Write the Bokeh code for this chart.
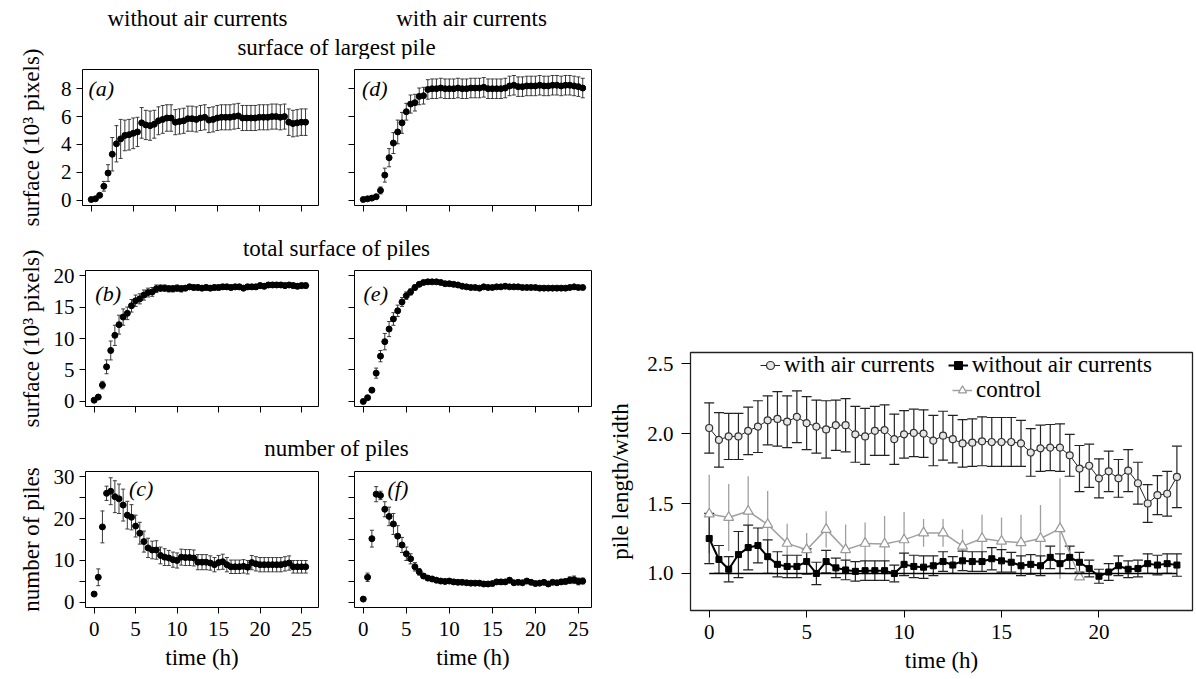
from bokeh.plotting import figure
from bokeh.models import (Range1d, FixedTicker, Label, Whisker, TeeHead, ColumnDataSource,
                          Legend, LegendItem, PrintfTickFormatter)
from bokeh.layouts import row, column
from bokeh.embed import file_html
from bokeh.resources import INLINE

FONT = "Liberation Serif"
TXT = "23px"

# ---------------- data ----------------
time_small = [0.0, 0.5, 1.0, 1.5, 2.0, 2.5, 3.0, 3.5, 4.0, 4.5, 5.0, 5.5, 6.0, 6.5, 7.0, 7.5,
              8.0, 8.5, 9.0, 9.5, 10.0, 10.5, 11.0, 11.5, 12.0, 12.5, 13.0, 13.5, 14.0, 14.5,
              15.0, 15.5, 16.0, 16.5, 17.0, 17.5, 18.0, 18.5, 19.0, 19.5, 20.0, 20.5, 21.0,
              21.5, 22.0, 22.5, 23.0, 23.5, 24.0, 24.5, 25.0, 25.5]

largest_without = [0.05, 0.10, 0.35, 1.00, 1.95, 3.30, 4.05, 4.40, 4.65, 4.70,
                   4.80, 4.90, 5.55, 5.40, 5.35, 5.45, 5.70, 5.80, 5.90, 5.90,
                   5.60, 5.65, 5.70, 5.85, 5.85, 5.80, 5.90, 5.95, 5.75, 5.80,
                   5.90, 5.95, 5.95, 5.95, 6.00, 6.05, 5.90, 5.90, 5.90, 5.90,
                   5.95, 5.95, 5.95, 6.00, 6.00, 5.95, 6.00, 5.60, 5.50, 5.55,
                   5.60, 5.60]
largest_without_err = [0.05, 0.05, 0.10, 0.35, 0.60, 1.20, 1.30, 1.40, 1.10, 1.10,
                       1.10, 1.05, 1.10, 1.05, 1.05, 1.00, 1.00, 1.00, 0.95, 0.95,
                       0.90, 0.90, 0.90, 0.90, 0.90, 0.90, 0.90, 0.90, 0.90, 0.90,
                       0.90, 0.90, 0.90, 0.90, 0.90, 0.90, 0.90, 0.90, 0.90, 0.90,
                       0.90, 0.90, 0.90, 0.90, 0.90, 0.90, 0.90, 0.95, 0.95, 0.95,
                       0.95, 0.95]

largest_with = [0.05, 0.10, 0.15, 0.25, 0.70, 1.80, 3.05, 4.10, 4.90, 5.55,
                6.35, 6.90, 7.00, 7.45, 7.50, 7.95, 8.00, 8.00, 8.05, 8.00,
                8.00, 8.00, 8.05, 8.00, 8.00, 8.05, 8.05, 8.05, 8.10, 8.00,
                8.00, 8.00, 8.00, 8.05, 8.20, 8.25, 8.15, 8.15, 8.20, 8.20,
                8.20, 8.25, 8.20, 8.20, 8.25, 8.25, 8.20, 8.25, 8.25, 8.20,
                8.15, 8.05]
largest_with_err = [0.05, 0.05, 0.05, 0.10, 0.25, 0.50, 0.65, 0.75, 0.85, 0.75,
                    0.60, 0.65, 0.60, 0.60, 0.60, 0.70, 0.70, 0.70, 0.70, 0.70,
                    0.70, 0.70, 0.70, 0.70, 0.70, 0.70, 0.70, 0.70, 0.70, 0.70,
                    0.70, 0.70, 0.70, 0.70, 0.70, 0.70, 0.70, 0.70, 0.70, 0.70,
                    0.70, 0.70, 0.70, 0.70, 0.70, 0.70, 0.70, 0.70, 0.70, 0.70,
                    0.70, 0.70]

total_without = [0.2, 0.7, 2.6, 5.5, 8.1, 10.5, 12.2, 13.4, 14.0, 15.2,
                 16.0, 16.3, 16.9, 17.3, 17.4, 17.9, 18.0, 18.0, 17.9, 17.9,
                 18.0, 17.9, 18.0, 18.2, 18.1, 18.1, 18.0, 18.1, 18.0, 18.1,
                 18.1, 18.2, 18.2, 18.1, 18.2, 18.2, 18.0, 18.2, 18.2, 18.2,
                 18.4, 18.3, 18.5, 18.5, 18.5, 18.5, 18.4, 18.5, 18.4, 18.3,
                 18.4, 18.4]
total_without_err = [0.2, 0.3, 0.6, 1.1, 1.5, 1.6, 1.5, 1.3, 1.0, 1.0,
                     0.9, 0.8, 0.8, 0.7, 0.7, 0.6, 0.5, 0.5, 0.5, 0.5,
                     0.5, 0.5, 0.4, 0.4, 0.4, 0.4, 0.4, 0.4, 0.4, 0.4,
                     0.4, 0.4, 0.4, 0.4, 0.4, 0.4, 0.4, 0.4, 0.4, 0.4,
                     0.4, 0.4, 0.4, 0.4, 0.4, 0.4, 0.4, 0.4, 0.4, 0.4,
                     0.4, 0.4]

total_with = [0.0, 0.6, 1.8, 4.5, 7.2, 9.5, 11.5, 13.1, 14.4, 15.8,
              16.8, 17.4, 18.1, 18.6, 18.9, 19.0, 19.0, 19.0, 18.9, 18.7,
              18.7, 18.6, 18.5, 18.3, 18.2, 18.1, 18.1, 18.0, 18.2, 18.1,
              18.1, 18.2, 18.2, 18.3, 18.2, 18.2, 18.2, 18.1, 18.1, 18.1,
              18.1, 18.0, 18.0, 18.0, 18.0, 18.0, 18.0, 18.0, 18.1, 18.2,
              18.1, 18.1]
total_with_err = [0.1, 0.2, 0.3, 0.8, 0.9, 1.3, 1.2, 1.0, 0.9, 0.7,
                  0.6, 0.5, 0.4, 0.3, 0.3, 0.3, 0.3, 0.3, 0.3, 0.3,
                  0.3, 0.3, 0.3, 0.3, 0.3, 0.3, 0.3, 0.3, 0.3, 0.3,
                  0.3, 0.3, 0.3, 0.3, 0.3, 0.3, 0.3, 0.3, 0.3, 0.3,
                  0.3, 0.3, 0.3, 0.3, 0.3, 0.3, 0.3, 0.3, 0.3, 0.3,
                  0.3, 0.3]

number_without = [2.0, 6.0, 18.0, 26.0, 26.5, 25.2, 24.7, 23.2, 20.8, 20.3,
                  18.2, 16.5, 14.5, 13.0, 12.5, 12.5, 11.2, 10.8, 10.6, 10.2,
                  10.0, 10.8, 10.7, 10.7, 10.6, 9.6, 9.6, 9.6, 9.4, 9.0,
                  9.5, 9.7, 9.0, 8.5, 8.5, 8.5, 8.6, 8.4, 9.5, 9.2,
                  9.0, 9.0, 9.0, 9.0, 9.0, 9.0, 9.2, 9.4, 8.5, 8.5,
                  8.5, 8.5]
number_without_err = [0.0, 2.0, 3.8, 1.7, 3.2, 3.8, 3.5, 3.8, 3.3, 3.0,
                      2.6, 2.6, 2.5, 2.3, 2.1, 2.2, 2.0, 2.0, 1.8, 1.8,
                      1.8, 1.9, 1.9, 1.9, 1.9, 1.8, 1.8, 1.8, 1.7, 1.7,
                      1.7, 1.8, 1.7, 1.6, 1.6, 1.6, 1.6, 1.6, 1.7, 1.7,
                      1.7, 1.7, 1.7, 1.7, 1.7, 1.7, 1.7, 1.7, 1.5, 1.5,
                      1.5, 1.5]

number_with = [0.8, 6.0, 15.2, 25.8, 25.5, 22.2, 20.5, 18.7, 15.8, 13.7,
               11.6, 10.4, 8.5, 7.3, 6.3, 5.8, 5.6, 5.3, 5.1, 5.0,
               5.1, 4.9, 4.8, 4.8, 4.7, 4.6, 4.6, 4.6, 4.4, 4.4,
               4.5, 4.9, 4.9, 4.9, 5.3, 4.7, 4.8, 4.7, 5.1, 4.8,
               4.5, 4.6, 4.8, 4.4, 4.8, 4.7, 4.9, 5.0, 5.3, 5.4,
               5.0, 5.1]
number_with_err = [0.0, 1.0, 2.0, 1.8, 1.0, 1.8, 2.2, 2.5, 2.5, 1.8,
                   1.6, 1.2, 1.0, 0.8, 0.6, 0.5, 0.5, 0.5, 0.5, 0.5,
                   0.5, 0.5, 0.5, 0.5, 0.5, 0.5, 0.5, 0.5, 0.5, 0.5,
                   0.5, 0.5, 0.5, 0.5, 0.6, 0.5, 0.5, 0.5, 0.5, 0.5,
                   0.5, 0.5, 0.5, 0.5, 0.5, 0.5, 0.6, 0.6, 0.8, 0.9,
                   0.8, 0.7]

time_ratio = [0.0, 0.5, 1.0, 1.5, 2.0, 2.5, 3.0, 3.5, 4.0, 4.5, 5.0, 5.5, 6.0, 6.5, 7.0, 7.5,
              8.0, 8.5, 9.0, 9.5, 10.0, 10.5, 11.0, 11.5, 12.0, 12.5, 13.0, 13.5, 14.0, 14.5,
              15.0, 15.5, 16.0, 16.5, 17.0, 17.5, 18.0, 18.5, 19.0, 19.5, 20.0, 20.5, 21.0,
              21.5, 22.0, 22.5, 23.0, 23.5, 24.0]
ratio_with = [2.04, 1.955, 1.98, 1.98, 2.02, 2.05, 2.095, 2.105, 2.085, 2.12,
              2.075, 2.05, 2.03, 2.06, 2.06, 1.995, 1.98, 2.02, 2.025, 1.96,
              1.995, 2.005, 2.0, 1.95, 1.985, 1.96, 1.93, 1.935, 1.945, 1.94,
              1.94, 1.94, 1.93, 1.865, 1.895, 1.90, 1.90, 1.845, 1.75, 1.77,
              1.68, 1.73, 1.68, 1.735, 1.645, 1.50, 1.56, 1.57, 1.69]
ratio_with_err = [0.18, 0.195, 0.165, 0.165, 0.17, 0.185, 0.175, 0.195, 0.185, 0.185,
                  0.19, 0.19, 0.205, 0.18, 0.19, 0.2, 0.2, 0.175, 0.18, 0.18,
                  0.17, 0.17, 0.17, 0.18, 0.175, 0.17, 0.17, 0.17, 0.175, 0.175,
                  0.175, 0.175, 0.165, 0.17, 0.165, 0.165, 0.17, 0.15, 0.165, 0.155,
                  0.14, 0.145, 0.135, 0.15, 0.15, 0.135, 0.14, 0.16, 0.22]
ratio_without = [1.25, 1.10, 1.03, 1.135, 1.185, 1.20, 1.12, 1.065, 1.05, 1.05,
                 1.085, 1.0, 1.085, 1.04, 1.025, 1.015, 1.02, 1.02, 1.02, 1.0,
                 1.065, 1.05, 1.045, 1.055, 1.085, 1.06, 1.09, 1.085, 1.085, 1.105,
                 1.09, 1.08, 1.055, 1.065, 1.055, 1.115, 1.07, 1.115, 1.08, 1.035,
                 0.98, 1.01, 1.055, 1.03, 1.035, 1.07, 1.06, 1.07, 1.06]
ratio_without_err = [0.18, 0.10, 0.09, 0.165, 0.16, 0.125, 0.12, 0.09, 0.08, 0.08,
                     0.09, 0.08, 0.08, 0.07, 0.07, 0.07, 0.07, 0.07, 0.07, 0.06,
                     0.08, 0.08, 0.08, 0.07, 0.07, 0.06, 0.07, 0.07, 0.07, 0.08,
                     0.08, 0.07, 0.07, 0.07, 0.07, 0.08, 0.07, 0.08, 0.07, 0.06,
                     0.05, 0.06, 0.07, 0.06, 0.06, 0.07, 0.07, 0.07, 0.08]
control_time = [0, 1, 2, 3, 4, 5, 6, 7, 8, 9, 10, 11, 12, 13, 14, 15, 16, 17, 18, 19]
ratio_control = [1.425, 1.40, 1.445, 1.35, 1.215, 1.17, 1.315, 1.17, 1.215, 1.21,
                 1.24, 1.29, 1.29, 1.195, 1.25, 1.23, 1.22, 1.25, 1.32, 0.975]
ratio_control_err = [0.28, 0.24, 0.25, 0.24, 0.14, 0.12, 0.13, 0.18, 0.15, 0.2,
                     0.2, 0.1, 0.1, 0.12, 0.17, 0.17, 0.2, 0.24, 0.36, 0.0]
baseline_time = [0, 24]
baseline_ratio = [1.0, 1.0]

time_ticks = [0, 5, 10, 15, 20, 25]

# ---------------- helpers ----------------
def style_axis(ax, ticks, show_labels, overrides=None):
    ax.ticker = FixedTicker(ticks=ticks)
    ax.axis_line_color = None
    ax.major_tick_in = 0
    ax.major_tick_out = 6
    ax.major_tick_line_color = "black"
    ax.minor_tick_line_color = None
    ax.major_label_text_font = FONT
    ax.major_label_text_color = "black"
    ax.axis_label_text_font = FONT
    ax.axis_label_text_font_style = "normal"
    ax.axis_label_text_font_size = TXT
    ax.axis_label_text_color = "black"
    if show_labels:
        ax.major_label_text_font_size = "21px"
        if overrides:
            ax.major_label_overrides = overrides
    else:
        ax.major_label_text_font_size = "1px"
        ax.major_label_standoff = 0
        ax.major_label_overrides = {t: "" for t in ticks}


def small_panel(width, height, mbl, mbr, mbt, mbb, xr, yr, yticks, ylab, xlab, yover=None):
    p = figure(width=width, height=height, x_range=Range1d(*xr), y_range=Range1d(*yr),
               output_backend="svg", toolbar_location=None,
               min_border_left=mbl, min_border_right=mbr,
               min_border_top=mbt, min_border_bottom=mbb)
    p.xgrid.visible = False
    p.ygrid.visible = False
    p.outline_line_color = "black"
    p.outline_line_width = 1
    p.outline_line_alpha = 1
    style_axis(p.xaxis[0], time_ticks, xlab)
    style_axis(p.yaxis[0], yticks, ylab, yover)
    p.yaxis[0].major_label_standoff = 5
    if xlab:
        p.xaxis[0].major_label_standoff = 8
        p.xaxis[0].axis_label = "time (h)"
        p.xaxis[0].axis_label_standoff = 6
    return p


def add_series(p, t, v, e, letter, lx, ly):
    src = ColumnDataSource(dict(t=t, v=v,
                                lo=[a - b for a, b in zip(v, e)],
                                hi=[a + b for a, b in zip(v, e)]))
    w = Whisker(source=src, base="t", lower="lo", upper="hi", dimension="height",
                line_color="#3a3a3a", line_width=1,
                upper_head=TeeHead(size=4, line_color="#3a3a3a", line_width=1),
                lower_head=TeeHead(size=4, line_color="#3a3a3a", line_width=1))
    w.level = "underlay"
    p.add_layout(w)
    p.scatter("t", "v", source=src, size=6, color="black", marker="circle")
    p.add_layout(Label(x=lx, y=ly, text=letter, text_font=FONT, text_font_style="italic",
                       text_font_size="22px", text_align="left", text_baseline="middle",
                       text_color="black"))


def text_fig(width, height, x0, x1, y0, y1, labels):
    p = figure(width=width, height=height, x_range=Range1d(x0, x1), y_range=Range1d(y1, y0),
               output_backend="svg", toolbar_location=None,
               x_axis_location=None, y_axis_location=None,
               min_border_left=0, min_border_right=0, min_border_top=0, min_border_bottom=0)
    p.xgrid.visible = False
    p.ygrid.visible = False
    p.outline_line_color = None
    for (x, y, txt) in labels:
        p.add_layout(Label(x=x, y=y, text=txt, text_font=FONT,
                           text_font_size=TXT, text_align="center",
                           text_baseline="middle", text_color="black"))
    return p


def label_strip(height, mbt, mbb, text):
    p = figure(width=50, height=height, x_range=Range1d(0, 1), y_range=Range1d(0, 1),
               output_backend="svg", toolbar_location=None, x_axis_location=None,
               min_border_left=43, min_border_right=0, min_border_top=mbt, min_border_bottom=mbb)
    p.xgrid.visible = False
    p.ygrid.visible = False
    p.outline_line_color = None
    ax = p.yaxis[0]
    ax.ticker = FixedTicker(ticks=[])
    ax.major_tick_out = 0
    ax.major_tick_in = 0
    ax.minor_tick_line_color = None
    ax.axis_line_color = None
    ax.major_label_standoff = 0
    ax.major_label_text_font_size = "1px"
    ax.axis_label = text
    ax.axis_label_standoff = 0
    ax.axis_label_text_font = FONT
    ax.axis_label_text_font_style = "normal"
    ax.axis_label_text_font_size = TXT
    ax.axis_label_text_color = "black"
    return p


XR_L = (-1.04, 27.04)
XR_R = (-1.02, 26.52)

# ---------------- small panels ----------------
fa = small_panel(286, 171, 32, 18, 10, 25, XR_L, (-0.38, 9.38), [0, 2, 4, 6, 8], True, False)
add_series(fa, time_small, largest_without, largest_without_err, "(a)", -0.33, 8.0)
fd = small_panel(269, 171, 18, 14, 10, 25, XR_R, (-0.38, 9.38), [0, 2, 4, 6, 8], False, False)
add_series(fd, time_small, largest_with, largest_with_err, "(d)", -0.15, 8.0)

fb = small_panel(286, 171, 32, 18, 10, 25, XR_L, (-0.8, 20.8), [0, 5, 10, 15, 20], True, False)
add_series(fb, time_small, total_without, total_without_err, "(b)", 0.15, 17.1)
fe = small_panel(269, 171, 18, 14, 10, 25, XR_R, (-0.8, 20.8), [0, 5, 10, 15, 20], False, False)
add_series(fe, time_small, total_with, total_with_err, "(e)", 0.03, 17.1)

fc = small_panel(286, 218, 32, 18, 10, 72, XR_L, (-1.2, 31.2), [0, 5, 10, 15, 20, 25, 30], True, True,
                 {5: "", 15: "", 25: ""})
add_series(fc, time_small, number_without, number_without_err, "(c)", 4.2, 27.1)
ff = small_panel(269, 218, 18, 14, 10, 72, XR_R, (-1.2, 31.2), [0, 5, 10, 15, 20, 25, 30], False, True)
add_series(ff, time_small, number_with, number_with_err, "(f)", 2.82, 27.1)

# ---------------- headers and side labels ----------------
h1 = text_fig(555, 59, 50, 605, 0, 59, [(197, 18, "without air currents"),
                                        (471, 18, "with air currents"),
                                        (336, 47, "surface of largest pile")])
h2 = text_fig(555, 30, 50, 605, 230, 260, [(336, 248, "total surface of piles")])
h3 = text_fig(555, 30, 50, 605, 431, 461, [(336, 448, "number of piles")])

s1 = label_strip(230, 69, 25, "surface (10³ pixels)")
s2 = label_strip(201, 40, 25, "surface (10³ pixels)")
s3 = label_strip(248, 40, 72, "number of piles")
strip = column(s1, s2, s3)

# ---------------- right panel ----------------
pr = figure(width=591, height=679, x_range=Range1d(-0.96, 24.8), y_range=Range1d(0.735, 2.58),
            output_backend="svg", toolbar_location=None,
            min_border_left=82, min_border_right=4, min_border_top=352, min_border_bottom=69)
pr.xgrid.visible = False
pr.ygrid.visible = False
pr.outline_line_color = "#222222"
pr.outline_line_width = 1.3
style_axis(pr.xaxis[0], [0, 5, 10, 15, 20], True)
style_axis(pr.yaxis[0], [1.0, 1.5, 2.0, 2.5], True)
pr.yaxis[0].formatter = PrintfTickFormatter(format="%.1f")
pr.yaxis[0].major_tick_out = 9
pr.yaxis[0].major_label_standoff = 8
pr.yaxis[0].axis_label = "pile length/width"
pr.yaxis[0].axis_label_standoff = 11
pr.xaxis[0].major_tick_out = 7
pr.xaxis[0].major_label_standoff = 7
pr.xaxis[0].axis_label = "time (h)"
pr.xaxis[0].axis_label_standoff = 6

src_c = ColumnDataSource(dict(t=control_time, v=ratio_control,
                              lo=[a - b for a, b in zip(ratio_control, ratio_control_err)],
                              hi=[a + b for a, b in zip(ratio_control, ratio_control_err)]))
wc = Whisker(source=src_c, base="t", lower="lo", upper="hi", dimension="height",
             line_color="#a0a0a0", line_width=1.3, upper_head=None, lower_head=None)
wc.level = "underlay"
pr.add_layout(wc)
r_c_line = pr.line("t", "v", source=src_c, line_color="#a0a0a0", line_width=1.5)
r_c_pts = pr.scatter("t", "v", source=src_c, marker="triangle", size=10,
                     line_color="#999999", fill_color="white", line_width=1.2)

src_wo = ColumnDataSource(dict(t=time_ratio, v=ratio_without,
                               lo=[a - b for a, b in zip(ratio_without, ratio_without_err)],
                               hi=[a + b for a, b in zip(ratio_without, ratio_without_err)]))
wwo = Whisker(source=src_wo, base="t", lower="lo", upper="hi", dimension="height",
              line_color="#222222", line_width=1.2,
              upper_head=TeeHead(size=10, line_color="#222222", line_width=1.2),
              lower_head=TeeHead(size=10, line_color="#222222", line_width=1.2))
wwo.level = "underlay"
pr.add_layout(wwo)

src_w = ColumnDataSource(dict(t=time_ratio, v=ratio_with,
                              lo=[a - b for a, b in zip(ratio_with, ratio_with_err)],
                              hi=[a + b for a, b in zip(ratio_with, ratio_with_err)]))
ww = Whisker(source=src_w, base="t", lower="lo", upper="hi", dimension="height",
             line_color="#222222", line_width=1.2,
             upper_head=TeeHead(size=10, line_color="#222222", line_width=1.2),
             lower_head=TeeHead(size=10, line_color="#222222", line_width=1.2))
ww.level = "underlay"
pr.add_layout(ww)

pr.line(baseline_time, baseline_ratio, line_color="black", line_width=1.5)

r_wo_line = pr.line("t", "v", source=src_wo, line_color="black", line_width=2)
r_wo_pts = pr.scatter("t", "v", source=src_wo, marker="square", size=6, color="black")
r_w_line = pr.line("t", "v", source=src_w, line_color="#222222", line_width=1)
r_w_pts = pr.scatter("t", "v", source=src_w, marker="circle", size=7,
                     line_color="#333333", fill_color="#e6e6e6", line_width=1.2)


def make_legend(items, loc, spacing):
    lg = Legend(items=items, location=loc, orientation="horizontal",
                border_line_color=None, background_fill_alpha=0, padding=0, margin=0,
                spacing=spacing, label_text_font=FONT, label_text_font_size=TXT,
                label_text_color="black", glyph_width=20, glyph_height=22,
                label_height=22, label_standoff=4)
    return lg


leg1 = make_legend([LegendItem(label="with air currents", renderers=[r_w_line, r_w_pts]),
                    LegendItem(label="without air currents", renderers=[r_wo_line, r_wo_pts])],
                   (70, 232), 13)
leg2 = make_legend([LegendItem(label="control", renderers=[r_c_line, r_c_pts])], (262, 207), 0)
pr.add_layout(leg1)
pr.add_layout(leg2)

left_block = column(h1, row(fa, fd), h2, row(fb, fe), h3, row(fc, ff))
page = row(strip, left_block, pr)

open("out.html", "w").write(file_html(page, INLINE))
